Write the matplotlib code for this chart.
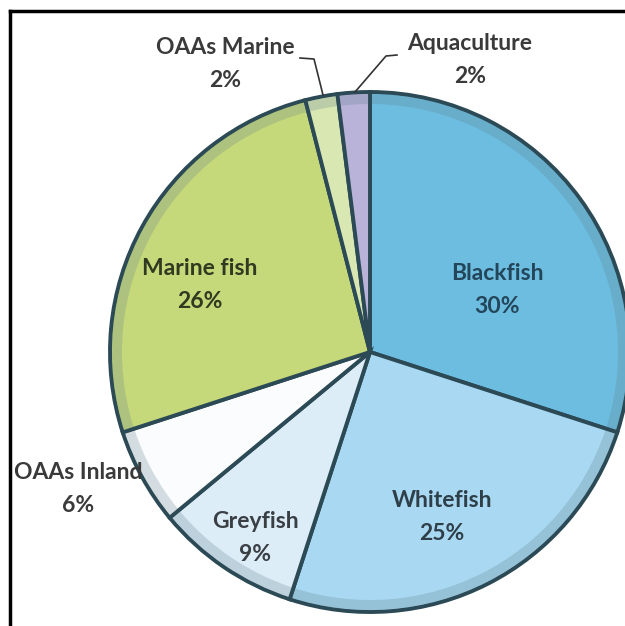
import matplotlib.pyplot as plt
from matplotlib.patches import Wedge

# fish production shares
labels = ['Blackfish', 'Whitefish', 'Greyfish', 'OAAs Inland',
          'Marine fish', 'OAAs Marine', 'Aquaculture']
shares = [30, 25, 9, 6, 26, 2, 2]
colors = ['#6cbde0', '#a9d9f2', '#dcedf8', '#fafcfd',
          '#c6d97a', '#d9e8b2', '#b9b2d9']

W, H = 625, 626
fig = plt.figure(figsize=(W / 100, H / 100), dpi=100)
ax = fig.add_axes([0, 0, 1, 1])

cx, cy, r = 370, H - 352, 260

wedges, _ = ax.pie(shares, colors=colors, startangle=90, counterclock=False,
                   center=(cx, cy), radius=r, frame=True,
                   wedgeprops=dict(edgecolor='#2c4a55', linewidth=2.8))
ax.set_xlim(0, W)
ax.set_ylim(0, H)
ax.set_aspect('equal')
ax.axis('off')

# soft shaded rim on each slice
for w in wedges:
    ax.add_patch(Wedge((cx, cy), r - 2, w.theta1 + 0.4, w.theta2 - 0.4, width=10,
                       facecolor='#5f7f8c', edgecolor='none', alpha=0.25))

font = dict(family=['Lato', 'DejaVu Sans'], fontsize=16.5, fontweight='bold',
            ha='center', va='center', linespacing=1.65)

def pct(i):
    return f'{labels[i]}\n{shares[i]}%'

ax.text(497, H - 290, pct(0), color='#24465a', **font)
ax.text(442, H - 517, pct(1), color='#2f3f4a', **font)
ax.text(255, H - 538, pct(2), color='#3a3f44', **font)
ax.text(78, H - 489, pct(3), color='#3a3a3a', **font)
ax.text(200, H - 285, pct(4), color='#2f3a20', **font)
ax.text(225, H - 64, pct(5), color='#3a3a3a', **font)
ax.text(470, H - 60, pct(6), color='#3a3a3a', **font)

# leader lines for the two thin slices
ax.plot([300, 314, 323], [H - 58, H - 59, H - 95], color='#333333', lw=1.2)
ax.plot([397, 386, 355], [H - 55, H - 56, H - 92], color='#333333', lw=1.2)

# frame
ax.plot([10, 10], [0, H - 11], color='black', lw=2.5)
ax.plot([10, W], [H - 11, H - 11], color='black', lw=2.5)

fig.savefig('out.png', dpi=100)
